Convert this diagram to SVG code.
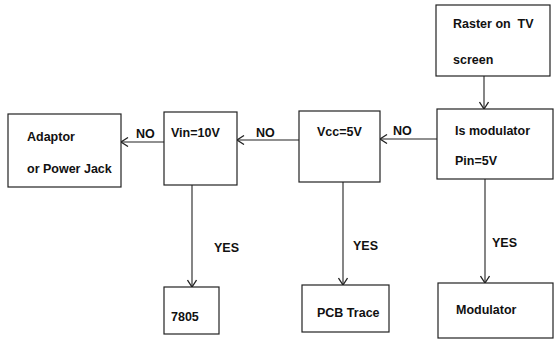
<svg xmlns="http://www.w3.org/2000/svg" width="554" height="345" viewBox="0 0 554 345">
<style>
.box{fill:#fff;stroke:#222;stroke-width:1.2}
.t{font-family:"Liberation Sans",Arial,sans-serif;font-size:12.5px;font-weight:bold;fill:#111}
.c{fill:none;stroke:#222;stroke-width:1.1}
</style>
<defs>
<marker id="a" viewBox="0 0 10 10" refX="10" refY="5" markerWidth="10" markerHeight="10" markerUnits="userSpaceOnUse" orient="auto">
<polyline points="3,0.5 10,5 3,9.5" fill="none" stroke="#222" stroke-width="1.3"/>
</marker>
</defs>
<rect width="554" height="345" fill="#fff"/>
<g id="connectors">
<line class="c" x1="484" y1="76" x2="484" y2="109" marker-end="url(#a)"/>
<line class="c" x1="437" y1="139" x2="380" y2="139" marker-end="url(#a)"/>
<text class="t" x="393" y="135">NO</text>
<line class="c" x1="299" y1="140" x2="237" y2="140" marker-end="url(#a)"/>
<text class="t" x="256" y="137">NO</text>
<line class="c" x1="164" y1="142" x2="121" y2="142" marker-end="url(#a)"/>
<text class="t" x="136" y="138">NO</text>
<line class="c" x1="192" y1="185" x2="192" y2="287" marker-end="url(#a)"/>
<text class="t" x="214" y="252">YES</text>
<line class="c" x1="343" y1="182" x2="343" y2="285" marker-end="url(#a)"/>
<text class="t" x="353" y="250">YES</text>
<line class="c" x1="485" y1="179" x2="485" y2="283" marker-end="url(#a)"/>
<text class="t" x="492" y="247">YES</text>
</g>
<g id="raster">
<rect class="box" x="436" y="5" width="114" height="71"/>
<text class="t" x="453" y="28" xml:space="preserve">Raster on  TV</text>
<text class="t" x="453" y="64">screen</text>
</g>
<g id="modcheck">
<rect class="box" x="437" y="109" width="116" height="70"/>
<text class="t" x="455" y="135">Is modulator</text>
<text class="t" x="455" y="165">Pin=5V</text>
</g>
<g id="vcc">
<rect class="box" x="299" y="111" width="81" height="71"/>
<text class="t" x="317" y="136">Vcc=5V</text>
</g>
<g id="vin">
<rect class="box" x="164" y="112" width="73" height="73"/>
<text class="t" x="171" y="137">Vin=10V</text>
</g>
<g id="adaptor">
<rect class="box" x="8" y="114" width="113" height="73"/>
<text class="t" x="27" y="141">Adaptor</text>
<text class="t" x="27" y="173">or Power Jack</text>
</g>
<g id="ic7805">
<rect class="box" x="164" y="287" width="55" height="47"/>
<text class="t" x="171" y="321">7805</text>
</g>
<g id="pcb">
<rect class="box" x="302" y="285" width="87" height="47"/>
<text class="t" x="317" y="317">PCB Trace</text>
</g>
<g id="modulator">
<rect class="box" x="438" y="283" width="115" height="55"/>
<text class="t" x="456" y="314">Modulator</text>
</g>
</svg>
